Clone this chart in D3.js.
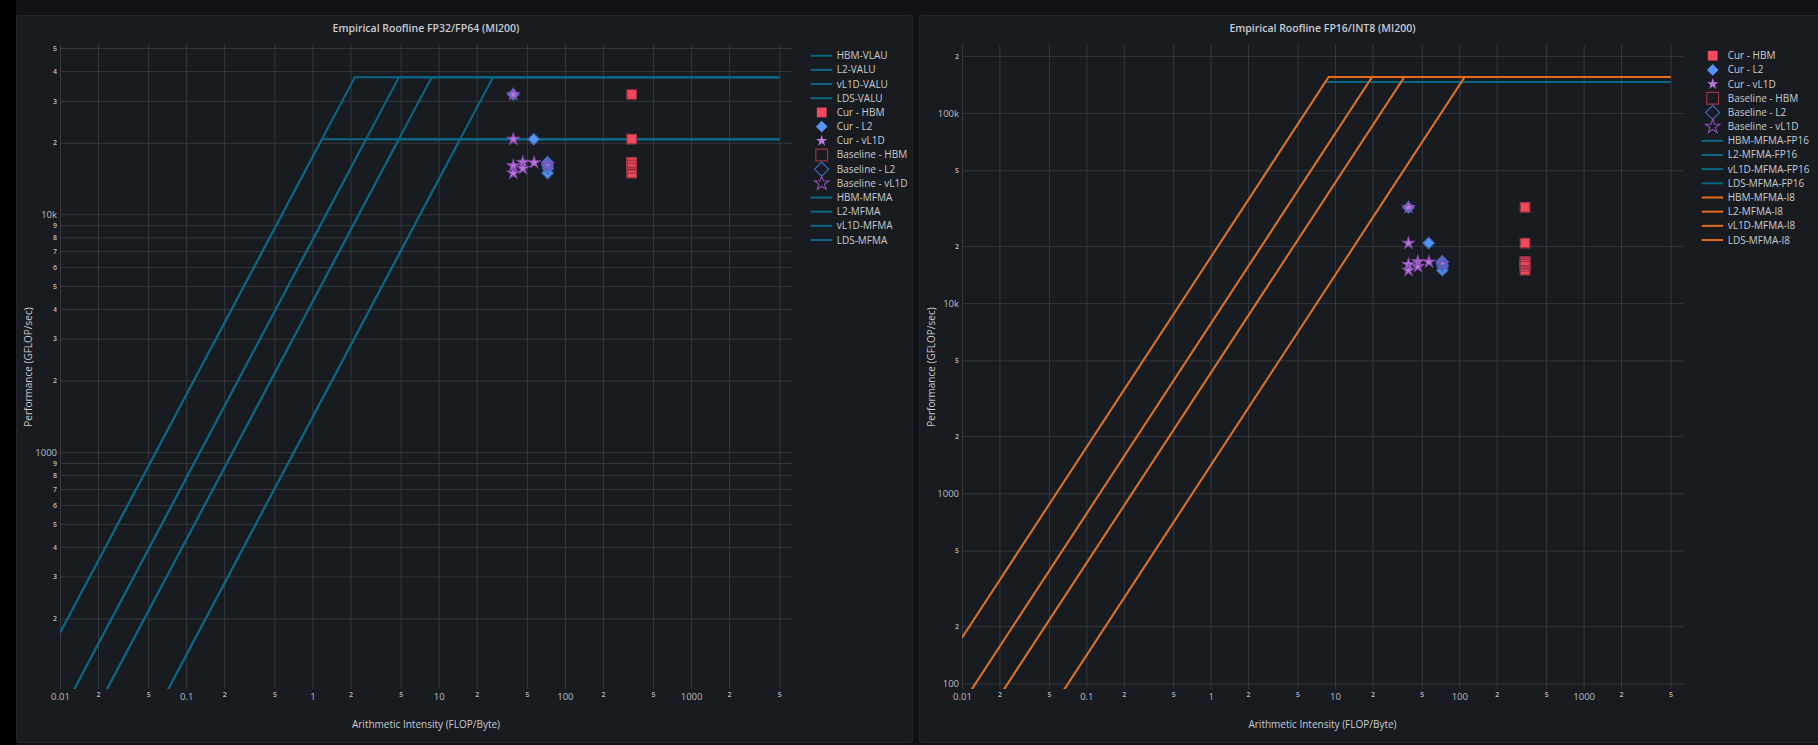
<!DOCTYPE html>
<html>
<head>
<meta charset="utf-8">
<script src="https://cdn.jsdelivr.net/npm/d3@7"></script>
<style>
  html, body { margin: 0; padding: 0; background: #111217; }
  svg { display: block; }
  text { font-family: "Open Sans", "Liberation Sans", Arial, sans-serif; }
</style>
</head>
<body>
<svg id="chart" width="1818" height="745"></svg>
<script>
// ---- data ----
var memLevels = ["HBM", "L2", "vL1D", "LDS"];
var bandwidth = [1400, 4280, 7780, 17400];      // GB/s, per memory level
var aiStart = 0.01, aiEnd = 5000;               // extent of the roofline lines
var peakVALU = 20700, peakMFMA = 37700;         // FP32/FP64 ceilings
var peakFP16 = 145600, peakI8 = 154700;         // FP16/INT8 ceilings

// one entry per kernel
var kernelPerf = [31900, 20700, 16000, 16550, 16500, 15600, 14900, 16150];
var curAI_HBM  = [338, 338, 338, 338, 338, 338, 338, 338];
var curAI_L2   = [39, 56.7, 73, 73, 72.5, 73.5, 73, 72.5];
var curAI_vL1D = [39, 39, 39, 46.4, 57, 46.4, 39, 73];

var basePerf    = [31900, 20700, 16000, 16550, 16500, 15600, 14900, 16150];
var baseAI_HBM  = [338, 338, 338, 338, 338, 338, 338, 338];
var baseAI_L2   = [39, 56.7, 73, 73, 72.5, 73.5, 73, 72.5];
var baseAI_vL1D = [39, 39, 39, 46.4, 57, 46.4, 39, 73];

var xTicks  = [0.01, 0.02, 0.05, 0.1, 0.2, 0.5, 1, 2, 5, 10, 20, 50, 100, 200, 500, 1000, 2000, 5000];
var xLabels = ["0.01", "2", "5", "0.1", "2", "5", "1", "2", "5", "10", "2", "5", "100", "2", "5", "1000", "2", "5"];

var yTicksLeft  = [200, 300, 400, 500, 600, 700, 800, 900, 1000, 2000, 3000, 4000, 5000, 6000, 7000, 8000, 9000,
                   10000, 20000, 30000, 40000, 50000];
var yLabelsLeft = ["2", "3", "4", "5", "6", "7", "8", "9", "1000", "2", "3", "4", "5", "6", "7", "8", "9",
                   "10k", "2", "3", "4", "5"];
var yTicksRight  = [100, 200, 500, 1000, 2000, 5000, 10000, 20000, 50000, 100000, 200000];
var yLabelsRight = ["100", "2", "5", "1000", "2", "5", "10k", "2", "5", "100k", "2"];

// ---- styles ----
var teal = "#0c6685", orange = "#e56c1c";
var colHBM = "#f2495c", colL2 = "#5794f2", colVL1D = "#b877d9";
var edgeHBM = "#a23545", edgeL2 = "#3a6cc2", edgeVL1D = "#8a4cb3";
var gridColor = "#35383e", tickColor = "#b9bdc5", textColor = "#c9ccd3";

var svg = d3.select("#chart");

// page frame: black strip on the left, two panels
svg.append("rect").attr("x", 0).attr("y", 0).attr("width", 16).attr("height", 745).attr("fill", "#000");
svg.append("rect").attr("x", 16.5).attr("y", 15.5).attr("width", 896).attr("height", 727)
  .attr("rx", 2).attr("fill", "#181b1f").attr("stroke", "rgba(204,204,220,0.08)");
svg.append("rect").attr("x", 919.5).attr("y", 15.5).attr("width", 904).attr("height", 727)
  .attr("rx", 2).attr("fill", "#181b1f").attr("stroke", "rgba(204,204,220,0.08)");

function roofline(bw, peak) {
  return [[aiStart, bw * aiStart], [peak / bw, peak], [aiEnd, peak]];
}

function points(ai, perf) {
  return ai.map(function(a, i) { return [a, perf[i]]; });
}

var sym = {
  square:  { type: d3.symbolSquare, cur: 80, base: 92, rot: 0 },
  diamond: { type: d3.symbolSquare, cur: 56, base: 66, rot: 45 },
  star:    { type: d3.symbolStar,   cur: 34, base: 42, rot: 0 }
};

function isDecade(d) {
  var l = Math.log10(d);
  return Math.abs(l - Math.round(l)) < 1e-9;
}

function drawPanel(p) {
  var g = svg.append("g");
  var x = d3.scaleLog().domain([0.01, 6300]).range([p.left, p.right]);
  var y = d3.scaleLog().domain(p.yDomain).range([p.bottom, p.top]);

  // title
  g.append("text")
    .text(p.title)
    .attr("x", (p.left + p.right) / 2)
    .attr("y", 31.5)
    .attr("text-anchor", "middle")
    .attr("font-size", 10.5)
    .attr("font-weight", 600)
    .attr("fill", textColor);

  // horizontal grid + y labels
  g.append("g")
    .attr("transform", "translate(" + p.left + ",0)")
    .call(d3.axisLeft(y).tickValues(p.yTicks)
      .tickFormat(function(d, i) { return p.yLabels[i]; })
      .tickSize(-(p.right - p.left)).tickPadding(3))
    .call(function(a) { a.select(".domain").remove(); })
    .call(function(a) { a.selectAll("line").attr("stroke", gridColor); })
    .call(function(a) {
      a.selectAll("text").attr("fill", tickColor)
        .attr("font-size", function(d) { return isDecade(d) ? 9.5 : 7; })
        .attr("font-weight", function(d) { return isDecade(d) ? 400 : 600; });
    });

  // vertical grid + x labels
  g.append("g")
    .attr("transform", "translate(0," + p.bottom + ")")
    .call(d3.axisBottom(x).tickValues(xTicks)
      .tickFormat(function(d, i) { return xLabels[i]; })
      .tickSize(-(p.bottom - p.top)).tickPadding(4))
    .call(function(a) { a.select(".domain").remove(); })
    .call(function(a) { a.selectAll("line").attr("stroke", gridColor); })
    .call(function(a) {
      a.selectAll("text").attr("fill", tickColor)
        .attr("font-size", function(d) { return isDecade(d) ? 9.5 : 7; })
        .attr("font-weight", function(d) { return isDecade(d) ? 400 : 600; })
        .attr("dy", function(d) { return isDecade(d) ? "0.71em" : "0.55em"; });
    });

  // axis titles
  g.append("text")
    .text("Arithmetic Intensity (FLOP/Byte)")
    .attr("x", (p.left + p.right) / 2)
    .attr("y", 727.5)
    .attr("text-anchor", "middle")
    .attr("font-size", 10)
    .attr("fill", textColor);

  g.append("text")
    .text("Performance (GFLOP/sec)")
    .attr("transform", "translate(" + p.yTitleX + "," + ((p.top + p.bottom) / 2) + ") rotate(-90)")
    .attr("text-anchor", "middle")
    .attr("font-size", 10)
    .attr("fill", textColor);

  // plot contents, clipped to the plot area
  svg.append("clipPath").attr("id", p.id + "-clip")
    .append("rect")
    .attr("x", p.left).attr("y", p.top)
    .attr("width", p.right - p.left).attr("height", p.bottom - p.top);

  var plot = g.append("g").attr("clip-path", "url(#" + p.id + "-clip)");
  var line = d3.line().x(function(d) { return x(d[0]); }).y(function(d) { return y(d[1]); });

  var legend = g.append("g");

  p.traces.forEach(function(t, i) {
    var ly = 55.7 + i * 14.18;
    if (t.kind === "line") {
      plot.append("path")
        .datum(t.data)
        .attr("d", line)
        .attr("fill", "none")
        .attr("stroke", t.color)
        .attr("stroke-width", 2);
      legend.append("line")
        .attr("x1", p.legendX - 11).attr("x2", p.legendX + 10.5)
        .attr("y1", ly).attr("y2", ly)
        .attr("stroke", t.color).attr("stroke-width", 2);
    } else {
      var s = sym[t.symbol];
      var size = t.hollow ? s.base : s.cur;
      var path = d3.symbol().type(s.type).size(size);
      plot.selectAll(null)
        .data(t.data)
        .enter().append("path")
        .attr("d", path)
        .attr("transform", function(d) {
          return "translate(" + x(d[0]) + "," + y(d[1]) + ") rotate(" + s.rot + ")";
        })
        .attr("fill", t.hollow ? "none" : t.color)
        .attr("stroke", t.hollow ? t.color : "none")
        .attr("stroke-width", 1.1);
      var lsize = t.hollow ? size * 1.5 : size * 1.2;
      legend.append("path")
        .attr("d", d3.symbol().type(s.type).size(lsize))
        .attr("transform", "translate(" + p.legendX + "," + ly + ") rotate(" + s.rot + ")")
        .attr("fill", t.hollow ? "none" : t.color)
        .attr("stroke", t.hollow ? t.color : "none")
        .attr("stroke-width", 1.1);
    }
    legend.append("text")
      .text(t.name)
      .attr("x", p.legendX + 15)
      .attr("y", ly)
      .attr("dy", "0.35em")
      .attr("font-size", 10)
      .attr("fill", textColor);
  });
}

var markerTraces = [
  { kind: "marker", name: "Cur - HBM", symbol: "square", color: colHBM, data: points(curAI_HBM, kernelPerf) },
  { kind: "marker", name: "Cur - L2", symbol: "diamond", color: colL2, data: points(curAI_L2, kernelPerf) },
  { kind: "marker", name: "Cur - vL1D", symbol: "star", color: colVL1D, data: points(curAI_vL1D, kernelPerf) },
  { kind: "marker", name: "Baseline - HBM", symbol: "square", hollow: true, color: edgeHBM, data: points(baseAI_HBM, basePerf) },
  { kind: "marker", name: "Baseline - L2", symbol: "diamond", hollow: true, color: edgeL2, data: points(baseAI_L2, basePerf) },
  { kind: "marker", name: "Baseline - vL1D", symbol: "star", hollow: true, color: edgeVL1D, data: points(baseAI_vL1D, basePerf) }
];

var valuNames = ["HBM-VLAU", "L2-VALU", "vL1D-VALU", "LDS-VALU"];

var leftTraces = []
  .concat(memLevels.map(function(m, i) {
    return { kind: "line", name: valuNames[i], color: teal, data: roofline(bandwidth[i], peakVALU) };
  }))
  .concat(markerTraces)
  .concat(memLevels.map(function(m, i) {
    return { kind: "line", name: m + "-MFMA", color: teal, data: roofline(bandwidth[i], peakMFMA) };
  }));

var rightTraces = []
  .concat(markerTraces)
  .concat(memLevels.map(function(m, i) {
    return { kind: "line", name: m + "-MFMA-FP16", color: teal, data: roofline(bandwidth[i], peakFP16) };
  }))
  .concat(memLevels.map(function(m, i) {
    return { kind: "line", name: m + "-MFMA-I8", color: orange, data: roofline(bandwidth[i], peakI8) };
  }));

drawPanel({
  id: "left", title: "Empirical Roofline FP32/FP64 (MI200)",
  left: 60, right: 792, top: 45, bottom: 689, yTitleX: 32,
  yDomain: [101, 51500], yTicks: yTicksLeft, yLabels: yLabelsLeft,
  legendX: 821.7, traces: leftTraces
});

drawPanel({
  id: "right", title: "Empirical Roofline FP16/INT8 (MI200)",
  left: 962, right: 1683, top: 45, bottom: 689, yTitleX: 934.5,
  yDomain: [93.5, 228000], yTicks: yTicksRight, yLabels: yLabelsRight,
  legendX: 1712.7, traces: rightTraces
});
</script>
</body>
</html>
